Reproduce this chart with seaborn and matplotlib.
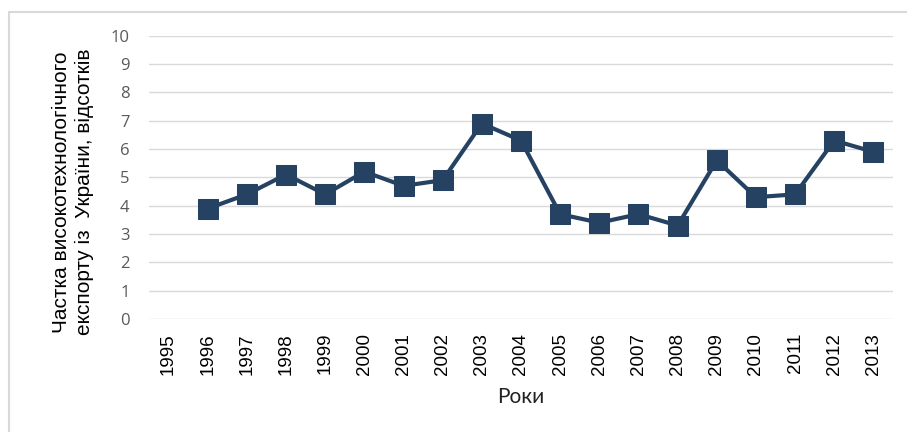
import pandas as pd
import seaborn as sns
import matplotlib.pyplot as plt
import numpy as np
from matplotlib.patches import Rectangle

years = list(range(1995, 2014))
share = [np.nan, 3.9, 4.4, 5.1, 4.4, 5.2, 4.7, 4.9, 6.9, 6.3,
         3.7, 3.4, 3.7, 3.3, 5.6, 4.3, 4.4, 6.3, 5.9]
y_ticks = list(range(0, 11))

df = pd.DataFrame({"year": years, "share": share})

sns.set_style("white")
plt.rcParams['font.family'] = ['Liberation Sans', 'DejaVu Sans']

fig = plt.figure(figsize=(9.07, 4.32), dpi=100)
ax = fig.add_axes([149/907, 1-319/432, (893-149)/907, (319-35.7)/432])

sns.lineplot(data=df.dropna(), x="year", y="share", ax=ax, color="#264263",
             linewidth=3, marker="s", markersize=14, markeredgecolor="#264263")

ax.set_xlim(1994.5, 2013.5)
ax.set_ylim(0, 10)
ax.set_yticks(y_ticks)
ax.set_xticks(years)
ax.set_xticklabels([str(y) for y in years], rotation=90, fontsize=13.5, color="black")
ax.set_yticklabels([str(v) for v in y_ticks], fontsize=12, color="#595959",
                   family=['Open Sans', 'DejaVu Sans'])
ax.tick_params(axis='x', length=0, pad=10)
ax.tick_params(axis='y', length=0, pad=14)
ax.yaxis.grid(True, color="#d9d9d9", linewidth=1)
ax.set_axisbelow(True)
for s in ax.spines.values():
    s.set_visible(False)
ax.set_xlabel("")
ax.set_ylabel("")

fig.text(73/907, 1-192/432, "Частка високотехнологічного\nекспорту із  України, відсотків",
         rotation=90, ha="center", va="center", fontsize=15, color="black",
         multialignment="center", linespacing=1.2)
fig.text(521/907, 1-397/432, "Роки", ha="center", va="center", fontsize=15,
         color="#222222", family=['Lato', 'DejaVu Sans'])

fig.patches.append(Rectangle((8.5/907, -0.1), 2, 1.1 - 11.5/432, transform=fig.transFigure,
                             fill=False, edgecolor="#d9d9d9", linewidth=1.5))

fig.savefig("out.png", dpi=100)
